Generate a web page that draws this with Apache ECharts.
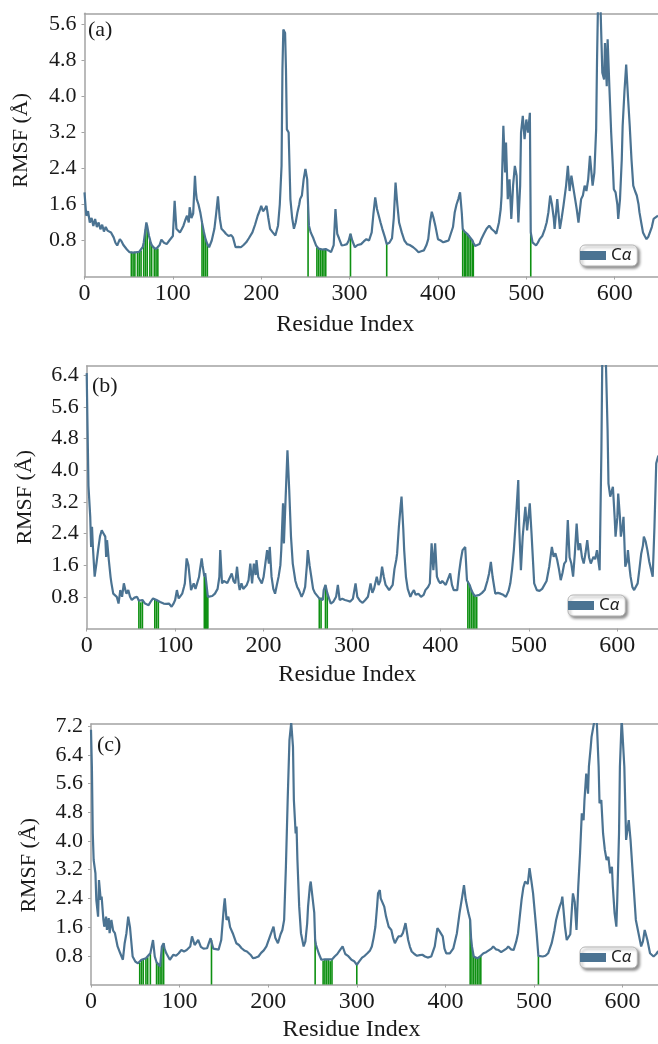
<!DOCTYPE html>
<html>
<head>
<meta charset="utf-8">
<script src="https://cdn.jsdelivr.net/npm/echarts@6/dist/echarts.min.js"></script>
<style>
html, body { margin: 0; padding: 0; background: #ffffff; }
#chart { width: 658px; height: 1044px; }
</style>
</head>
<body>
<div id="chart"></div>
<script>
// C-alpha RMSF per residue, [residue index, RMSF in Å]
const rmsfA = [[0,1.87],[2,1.35],[4,1.45],[6,1.2],[8,1.3],[10,1.12],[12,1.28],[14,1.1],[16,1.2],[18,1.05],[20,1.15],[22,1.0],[24,1.1],[26,1.02],[28,1.06],[30,0.98],[33,0.87],[35,0.75],[37,0.69],[40,0.83],[42,0.78],[44,0.7],[46,0.65],[48,0.6],[51,0.54],[53,0.55],[55,0.53],[57,0.55],[59,0.54],[60,0.56],[62,0.55],[64,0.58],[66,0.66],[67,0.75],[69,1.05],[70,1.2],[71,1.12],[73,0.9],[74,0.83],[75,0.75],[76,0.7],[78,0.65],[79,0.63],[81,0.61],[83,0.62],[85,0.7],[87,0.82],[90,0.75],[93,0.72],[96,0.8],[98,0.83],[100,0.9],[102,1.68],[104,1.06],[106,1.1],[108,0.98],[110,1.05],[112,1.13],[114,1.25],[116,1.35],[118,1.2],[119,1.54],[121,1.3],[123,1.4],[125,2.24],[126,1.9],[127,1.72],[129,1.6],[131,1.43],[133,1.2],[135,1.0],[137,0.83],[139,0.72],[141,0.65],[144,0.8],[147,1.06],[149,1.4],[151,1.78],[153,1.3],[155,1.06],[158,1.0],[160,0.95],[163,0.9],[166,0.92],[168,0.87],[171,0.65],[174,0.66],[177,0.65],[180,0.7],[183,0.76],[186,0.85],[190,0.98],[193,1.15],[196,1.35],[198,1.45],[200,1.57],[202,1.45],[204,1.5],[206,1.57],[208,1.3],[210,1.06],[213,0.98],[216,0.91],[219,1.13],[221,1.6],[223,2.46],[224,4.6],[225,5.49],[227,5.41],[228,4.6],[229,3.27],[231,3.2],[233,1.72],[235,1.3],[237,1.06],[239,1.2],[241,1.43],[243,1.6],[244,1.72],[246,1.8],[248,2.16],[250,2.39],[252,2.16],[253,1.6],[254,1.13],[256,0.98],[259,0.85],[262,0.69],[263,0.65],[265,0.62],[267,0.62],[269,0.6],[271,0.61],[273,0.61],[276,0.58],[279,0.54],[282,0.7],[284,1.5],[286,0.95],[288,0.85],[291,0.69],[294,0.7],[297,0.72],[299,0.8],[301,0.95],[303,0.8],[306,0.65],[309,0.7],[313,0.72],[316,0.78],[319,0.83],[322,0.8],[325,0.98],[327,1.4],[329,1.76],[331,1.5],[333,1.35],[335,1.2],[337,1.06],[340,0.87],[342,0.72],[345,0.75],[348,0.85],[350,1.3],[352,2.09],[354,1.6],[356,1.2],[359,0.98],[362,0.8],[365,0.72],[368,0.7],[372,0.65],[375,0.6],[378,0.54],[381,0.56],[384,0.58],[387,0.7],[389,0.83],[391,1.2],[393,1.44],[395,1.3],[397,1.13],[400,0.83],[403,0.8],[406,0.76],[409,0.78],[412,0.8],[414,0.83],[417,1.1],[419,1.43],[421,1.6],[423,1.72],[425,1.87],[427,1.4],[428,1.06],[430,1.0],[431,0.98],[433,0.95],[435,0.92],[437,0.85],[439,0.8],[440,0.75],[442,0.68],[444,0.65],[447,0.72],[449,0.83],[452,0.95],[455,1.06],[458,1.13],[461,1.05],[464,1.0],[466,0.95],[469,1.2],[471,1.5],[472,1.8],[474,3.35],[476,2.31],[477,2.98],[479,1.72],[481,2.16],[483,1.28],[485,2.02],[487,2.46],[489,2.24],[491,1.2],[493,2.02],[494,3.2],[496,3.57],[498,3.05],[500,3.49],[502,3.2],[504,3.64],[505,0.98],[507,0.76],[509,0.8],[511,0.69],[513,0.75],[515,0.83],[518,0.9],[521,1.06],[523,1.2],[525,1.43],[527,1.8],[529,1.6],[531,1.3],[532,1.06],[535,1.72],[538,1.06],[540,1.3],[542,1.57],[545,2.02],[547,2.46],[549,1.9],[551,2.24],[554,1.87],[557,1.5],[559,1.2],[562,1.72],[564,1.8],[566,2.02],[568,1.9],[570,2.16],[572,2.68],[575,2.02],[577,2.31],[579,3.27],[580,4.8],[581,5.95],[584,5.95],[586,4.53],[588,4.38],[589,5.19],[591,4.23],[592,5.27],[594,4.2],[596,3.2],[598,2.4],[599,1.94],[601,1.87],[603,1.6],[604,1.28],[606,1.72],[608,2.6],[609,3.35],[611,4.1],[613,4.71],[615,4.0],[617,3.35],[619,2.6],[621,2.02],[623,1.9],[625,1.8],[627,1.6],[628,1.43],[630,1.2],[632,0.98],[634,0.9],[636,0.83],[638,0.88],[640,0.91],[642,1.1],[644,1.28],[646,1.3],[649,1.35]];

const rmsfB = [[0,6.45],[1,5.0],[2,3.6],[4,2.82],[5,2.06],[6,2.57],[7,2.06],[9,1.31],[11,1.64],[13,2.0],[15,2.32],[17,2.48],[19,2.4],[21,2.32],[22,1.81],[23,2.23],[25,1.73],[27,1.3],[28,1.14],[30,0.88],[32,0.9],[34,0.8],[36,0.63],[38,0.97],[40,0.8],[42,1.14],[44,0.95],[45,0.88],[47,0.97],[49,0.8],[51,0.72],[54,0.78],[57,0.8],[59,0.7],[61,0.66],[63,0.72],[64,0.68],[66,0.63],[68,0.6],[70,0.59],[73,0.7],[75,0.76],[77,0.72],[79,0.72],[81,0.7],[83,0.67],[85,0.65],[87,0.63],[90,0.62],[93,0.63],[96,0.55],[98,0.62],[100,0.72],[102,0.97],[104,0.76],[106,0.82],[108,0.88],[110,1.05],[111,1.14],[113,1.77],[115,1.6],[116,1.64],[118,0.97],[121,1.14],[123,1.0],[125,1.05],[127,1.3],[128,1.47],[130,1.77],[131,1.6],[133,1.31],[134,1.4],[135,1.2],[136,1.0],[137,0.8],[139,0.76],[142,0.82],[145,0.88],[148,1.0],[150,1.3],[151,1.98],[153,1.14],[155,1.2],[157,1.22],[159,1.15],[161,1.2],[164,1.39],[166,1.2],[168,1.14],[170,1.56],[172,1.1],[173,0.97],[175,1.14],[177,1.0],[179,0.97],[181,1.1],[183,1.22],[185,1.64],[187,1.14],[189,1.64],[191,1.35],[192,1.73],[194,1.3],[196,1.22],[198,1.14],[200,1.3],[202,1.64],[204,1.98],[206,1.64],[207,2.06],[209,1.31],[211,1.0],[213,0.88],[215,1.1],[217,1.31],[219,1.6],[220,1.98],[222,3.16],[223,2.15],[225,3.33],[227,4.5],[229,3.5],[231,2.32],[233,1.64],[236,1.2],[238,1.05],[240,0.97],[243,0.8],[245,0.9],[247,1.05],[249,1.6],[250,1.98],[252,1.6],[254,1.3],[256,1.0],[258,0.9],[260,0.88],[263,0.76],[265,0.78],[267,0.72],[268,0.97],[270,1.1],[272,0.9],[274,0.76],[276,0.63],[279,0.68],[282,0.8],[284,1.1],[286,0.72],[289,0.75],[292,0.72],[295,0.7],[298,0.68],[301,0.75],[304,1.14],[306,0.8],[309,0.7],[312,0.65],[315,0.72],[318,0.8],[321,1.14],[323,0.9],[325,1.01],[328,1.31],[330,1.1],[332,1.2],[334,1.56],[336,1.3],[338,1.1],[340,1.14],[342,0.97],[344,0.95],[346,1.1],[348,1.5],[350,1.73],[351,1.89],[353,2.57],[355,3.1],[356,3.33],[358,2.5],[359,1.98],[361,1.3],[363,1.0],[366,0.8],[368,0.9],[370,0.97],[372,0.85],[375,0.88],[378,0.8],[381,0.85],[383,0.97],[386,1.05],[388,1.14],[390,2.15],[392,1.47],[394,2.15],[396,1.31],[398,1.2],[400,1.14],[402,1.2],[404,1.22],[406,1.1],[408,1.05],[411,1.39],[413,1.1],[415,0.97],[417,1.0],[419,0.97],[421,1.4],[423,1.73],[425,1.98],[428,2.06],[430,1.22],[431,1.2],[433,1.1],[435,0.97],[437,0.88],[439,0.82],[441,0.8],[444,0.85],[447,0.9],[450,0.97],[453,1.2],[455,1.39],[457,1.68],[459,1.3],[462,0.88],[465,0.9],[468,0.88],[471,0.85],[474,0.8],[477,0.95],[479,1.14],[481,1.5],[483,1.98],[486,2.99],[488,3.75],[489,2.6],[491,1.47],[493,2.32],[496,3.07],[498,2.48],[501,3.16],[503,2.4],[504,1.98],[506,1.14],[509,0.97],[512,0.95],[515,1.0],[517,0.97],[520,1.2],[523,1.56],[526,2.06],[528,1.81],[530,1.9],[532,1.73],[534,1.5],[536,1.22],[538,1.4],[540,1.64],[542,1.7],[544,2.74],[546,1.8],[548,1.64],[550,1.31],[552,1.9],[554,2.65],[556,1.98],[558,2.15],[560,1.8],[562,1.64],[564,1.9],[566,2.23],[568,1.8],[570,1.64],[573,1.81],[575,1.75],[577,1.98],[580,1.47],[582,4.5],[583,6.8],[587,6.8],[589,5.0],[590,3.66],[592,3.33],[594,3.3],[595,3.58],[597,2.8],[598,2.32],[600,2.8],[601,3.41],[603,2.8],[604,2.32],[606,2.6],[607,2.82],[609,1.56],[611,1.7],[612,1.98],[614,1.5],[615,1.31],[617,1.05],[619,0.97],[621,1.0],[623,1.14],[625,1.5],[627,1.89],[629,2.1],[630,2.32],[632,2.2],[634,1.98],[636,1.7],[638,1.5],[640,1.31],[642,2.57],[644,4.17],[646,4.34],[648,4.4]];

const rmsfC = [[0,7.1],[1,6.07],[2,4.21],[3,3.47],[5,3.1],[6,2.36],[8,1.89],[9,2.91],[11,2.36],[12,2.45],[14,1.8],[15,1.61],[17,1.89],[18,1.52],[20,1.85],[21,1.43],[23,1.8],[25,1.5],[27,1.43],[30,1.06],[33,0.87],[36,0.69],[38,1.15],[40,1.43],[42,1.89],[44,1.6],[47,0.78],[50,0.64],[53,0.59],[55,0.6],[57,0.69],[59,0.7],[62,0.73],[64,0.76],[67,0.87],[70,1.24],[72,0.78],[74,0.62],[76,0.59],[78,0.5],[80,1.06],[82,1.15],[83,1.0],[85,0.87],[89,0.69],[93,0.83],[96,0.8],[99,0.87],[102,0.96],[105,0.92],[108,0.96],[112,1.06],[114,1.34],[117,1.1],[119,1.15],[121,1.24],[124,1.05],[127,1.0],[131,1.01],[133,1.15],[135,1.29],[136,1.24],[138,1.0],[140,1.0],[144,0.97],[147,1.24],[150,2.17],[151,2.4],[153,1.8],[155,1.89],[157,1.6],[160,1.43],[164,1.15],[167,1.1],[170,1.01],[173,0.95],[176,0.92],[180,0.83],[183,0.73],[186,0.75],[189,0.78],[192,0.88],[195,0.95],[198,1.06],[202,1.34],[206,1.61],[208,1.3],[211,1.15],[214,1.4],[216,1.52],[218,1.8],[220,3.28],[222,5.14],[224,6.81],[226,7.3],[227,7.3],[228,6.62],[229,5.14],[231,4.21],[232,4.4],[233,3.47],[235,2.17],[237,1.43],[240,1.06],[242,1.2],[244,1.7],[245,2.17],[247,2.73],[248,2.87],[250,2.82],[252,2.0],[253,1.24],[254,1.1],[257,0.87],[260,0.69],[262,0.66],[264,0.7],[266,0.68],[268,0.7],[270,0.65],[272,0.7],[275,0.78],[278,0.85],[281,0.96],[284,1.06],[287,0.85],[290,0.8],[294,0.69],[297,0.65],[300,0.55],[303,0.65],[306,0.75],[309,0.8],[312,0.87],[315,0.95],[317,1.06],[319,1.3],[321,1.61],[323,2.2],[324,2.54],[326,2.63],[327,2.4],[329,2.45],[331,2.17],[333,1.9],[336,1.61],[339,1.52],[341,1.3],[343,1.15],[345,1.25],[347,1.34],[350,1.35],[352,1.43],[355,1.71],[358,1.24],[360,1.05],[362,0.92],[365,0.85],[368,0.8],[371,0.82],[374,0.83],[377,0.78],[380,0.75],[384,0.78],[388,1.06],[391,1.57],[393,1.5],[395,1.5],[397,1.34],[399,1.0],[401,0.87],[405,0.87],[409,1.01],[413,1.43],[416,1.99],[419,2.45],[421,2.77],[423,2.36],[426,1.99],[428,1.8],[429,1.3],[430,1.06],[432,0.78],[434,0.75],[436,0.73],[438,0.75],[440,0.8],[443,0.87],[446,0.9],[449,0.95],[452,1.0],[454,1.06],[457,0.98],[460,0.96],[463,0.9],[466,0.95],[469,1.0],[471,1.06],[474,0.98],[477,0.96],[480,1.2],[482,1.43],[484,1.9],[486,2.36],[488,2.7],[490,2.87],[492,2.91],[493,2.8],[495,3.24],[497,2.9],[499,2.54],[501,1.99],[503,1.43],[505,0.8],[507,0.78],[510,0.78],[513,0.8],[516,0.87],[520,1.15],[523,1.5],[525,1.8],[527,2.0],[529,2.17],[531,2.3],[532,2.45],[534,1.9],[535,1.61],[537,1.24],[539,1.2],[541,1.4],[543,2.2],[544,2.54],[546,2.3],[548,1.52],[550,2.73],[552,3.65],[554,4.77],[556,4.58],[557,5.14],[559,5.88],[561,5.32],[562,6.07],[564,6.6],[565,6.9],[567,7.18],[569,7.46],[571,7.27],[573,6.07],[574,5.05],[576,5.14],[578,4.21],[580,3.75],[582,3.47],[584,3.56],[586,3.1],[588,3.28],[589,2.73],[591,1.99],[593,1.61],[594,2.36],[596,4.21],[597,6.07],[599,7.4],[601,7.4],[602,6.07],[604,4.03],[606,4.03],[607,4.58],[609,4.03],[611,3.28],[613,2.54],[615,1.8],[618,1.43],[621,1.06],[623,1.2],[625,1.52],[628,1.24],[631,0.87],[635,0.78],[638,0.85],[640,0.92],[642,0.9]];

// highlighted residues (drawn as green drop lines to the curve)
const sitesA = [53,55,57,60,62,64,67,69,71,74,76,79,81,83,133,135,137,139,253,263,265,267,269,271,273,301,342,428,430,431,433,435,437,439,440,505];
const sitesB = [59,61,63,77,79,81,133,134,135,136,137,263,265,270,272,431,433,435,437,439,441];
const sitesC = [55,57,59,62,64,67,74,76,78,80,82,136,253,262,264,266,268,270,272,300,428,430,432,434,436,438,440,505];

const panelLabels = ['(a)', '(b)', '(c)'];
const xTicks = [0, 100, 200, 300, 400, 500, 600];
const xName = 'Residue Index';
const yName = 'RMSF (Å)';
const seriesName = 'Cα';

const LINE = '#4b7392';
const GREEN = '#0e9012';
const FRAME = '#a3a3a3';
const SERIF = 'Liberation Serif';

// layout of the three stacked panels
const layout = [
  { left: 84.5, top: 13.3, bottom: 276.5, xMax: 649, yMax: 5.85, namePadY: [0, 0, 0, 9],  nameGapY: 52, nameGapX: 36, padX: 52,
    tag: { x: 88, y: 19 }, legend: { x: 580, y: 245 } },
  { left: 86.7, top: 366, bottom: 628.5, xMax: 646, yMax: 6.63, namePadY: [0, 0, 0, 0],  nameGapY: 50, nameGapX: 34, padX: 50,
    tag: { x: 92, y: 375 }, legend: { x: 568, y: 595 } },
  { left: 91, top: 724, bottom: 984.5, xMax: 640, yMax: 7.26, namePadY: [0, 22, 0, 0], nameGapY: 51, nameGapX: 33, padX: 46,
    tag: { x: 97, y: 734 }, legend: { x: 580, y: 947 } }
];

const curves = [rmsfA, rmsfB, rmsfC];
const sites = [sitesA, sitesB, sitesC];

function valueAt(curve, r) {
  const p = curve.find(d => d[0] === r);
  return p ? p[1] : 0;
}

const onTick = (v, step) => Math.abs(v / step - Math.round(v / step)) < 1e-6;

const option = {
  animation: false,
  backgroundColor: '#ffffff',
  title: [], grid: [], xAxis: [], yAxis: [], legend: [], series: []
};

layout.forEach((L, i) => {
  option.grid.push({
    left: L.left, top: L.top, width: 658 - L.left, height: L.bottom - L.top,
    containLabel: false
  });
  option.title.push({
    text: panelLabels[i], left: L.tag.x, top: L.tag.y, padding: 0,
    textStyle: { fontFamily: SERIF, fontSize: 22, fontWeight: 'normal', color: '#1a1a1a' }
  });
  // bottom value axis
  option.xAxis.push({
    type: 'value', gridIndex: i, min: 0, max: L.xMax, interval: 100,
    name: xName, nameLocation: 'middle', nameGap: L.nameGapX,
    nameTextStyle: { fontFamily: SERIF, fontSize: 24, color: '#1a1a1a', padding: [0, L.padX, 0, 0], verticalAlign: 'top' },
    axisLine: { show: true, onZero: false, lineStyle: { color: FRAME, width: 1.5 } },
    axisTick: { show: true, length: 3, lineStyle: { color: FRAME } },
    axisLabel: {
      fontFamily: SERIF, fontSize: 24, color: '#1a1a1a', margin: 5, showMaxLabel: false,
      formatter: v => (xTicks.includes(v) ? String(v) : '')
    },
    splitLine: { show: false }
  });
  // top frame line
  option.xAxis.push({
    type: 'value', gridIndex: i, position: 'top', min: 0, max: L.xMax,
    axisLine: { show: true, onZero: false, lineStyle: { color: FRAME, width: 1.5 } },
    axisTick: { show: false }, axisLabel: { show: false }, splitLine: { show: false }
  });
  option.yAxis.push({
    type: 'value', gridIndex: i, min: 0, max: L.yMax, interval: 0.8,
    name: yName, nameLocation: 'middle', nameGap: L.nameGapY,
    nameTextStyle: { fontFamily: SERIF, fontSize: 22, color: '#1a1a1a', padding: L.namePadY },
    axisLine: { show: true, onZero: false, lineStyle: { color: FRAME, width: 1.5 } },
    axisTick: { show: true, length: 3, lineStyle: { color: FRAME } },
    axisLabel: {
      fontFamily: SERIF, fontSize: 22, color: '#1a1a1a', margin: 8,
      showMinLabel: false, showMaxLabel: false,
      formatter: v => (v > 0 && onTick(v, 0.8) ? v.toFixed(1) : '')
    },
    splitLine: { show: false }
  });
  option.legend.push({
    data: [seriesName], left: L.legend.x, top: L.legend.y, orient: 'horizontal',
    icon: 'rect', itemWidth: 26, itemHeight: 9, itemGap: 0,
    padding: [2, 6, 2, 0],
    backgroundColor: '#ffffff', borderColor: '#b5b5b5', borderWidth: 1, borderRadius: 5,
    shadowBlur: 3, shadowColor: 'rgba(0,0,0,0.45)', shadowOffsetX: 2, shadowOffsetY: 2,
    selectedMode: false,
    formatter: () => 'C{g|α}',
    textStyle: {
      fontFamily: 'Noto Sans', fontSize: 17, color: '#222',
      rich: { g: { fontFamily: 'Noto Sans', fontStyle: 'italic', fontSize: 17, color: '#222' } }
    }
  });
  const curve = curves[i];
  option.series.push({
    type: 'custom', xAxisIndex: 2 * i, yAxisIndex: i, z: 2, silent: true,
    data: sites[i].map(r => [r, valueAt(curve, r)]),
    renderItem: (params, api) => {
      const r = api.value(0);
      const p0 = api.coord([r, 0]);
      const p1 = api.coord([r, api.value(1)]);
      return {
        type: 'line',
        shape: { x1: p0[0], y1: p0[1], x2: p1[0], y2: p1[1] },
        style: { stroke: GREEN, lineWidth: 1.6 }
      };
    }
  });
  option.series.push({
    name: seriesName, type: 'line', xAxisIndex: 2 * i, yAxisIndex: i, z: 3,
    data: curve, symbol: 'none', clip: true,
    lineStyle: { color: LINE, width: 2.2 }, itemStyle: { color: LINE }
  });
});

const chart = echarts.init(document.getElementById('chart'), null, { renderer: 'canvas' });
chart.setOption(option);
</script>
</body>
</html>
